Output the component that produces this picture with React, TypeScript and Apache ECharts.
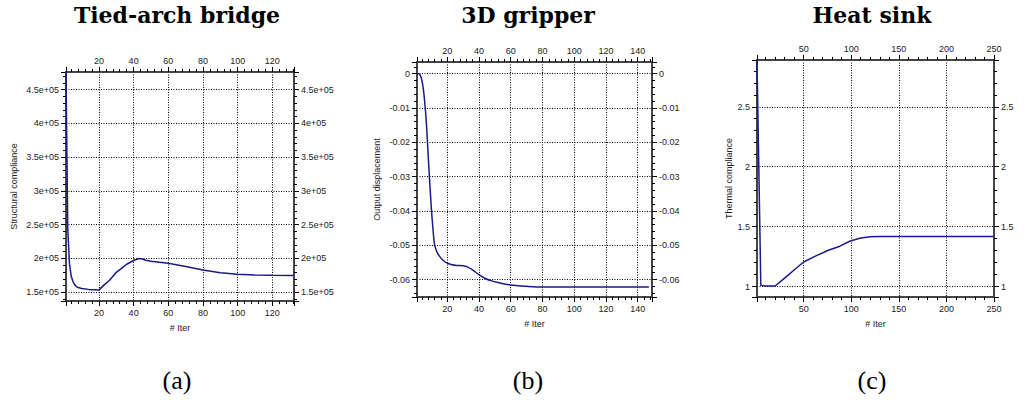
import React, { useEffect, useRef } from 'react';
import * as echarts from 'echarts';

// (a) Tied-arch bridge
const iterA = [1, 2, 3, 4, 5, 6, 7, 8, 10, 14, 20, 23, 26, 30, 33, 36, 40, 43, 45, 47, 50, 60, 70, 80, 90, 100, 110, 120, 132];
const complianceA = [475000, 245000, 192000, 174000, 166000, 161000, 158500, 157000, 155500, 154300, 153200, 161000, 167500, 179500, 185500, 191500, 197000, 200000, 199200, 197500, 195800, 192900, 188000, 183000, 179000, 176600, 175600, 175200, 175000];

// (b) 3D gripper
const iterB = [1, 2, 3, 4, 5, 6, 7, 8, 9, 10, 11, 12, 13, 14, 16, 18, 20, 23, 26, 30, 33, 36, 40, 44, 48, 52, 56, 60, 65, 70, 80, 147];
const displacementB = [0, 0, -0.0004, -0.0018, -0.0045, -0.009, -0.015, -0.0235, -0.0315, -0.039, -0.045, -0.0497, -0.0513, -0.0524, -0.0537, -0.0546, -0.0552, -0.0557, -0.0559, -0.056, -0.0564, -0.0572, -0.0586, -0.0597, -0.0604, -0.0609, -0.0613, -0.0616, -0.0618, -0.062, -0.0622, -0.0622];

// (c) Heat sink
const iterC = [1, 5, 10, 20, 30, 40, 50, 64, 76, 88, 99, 110, 120, 130, 250];
const complianceC = [2.89, 1.01, 1.005, 1.005, 1.07, 1.138, 1.205, 1.26, 1.303, 1.337, 1.38, 1.405, 1.415, 1.417, 1.417];

// axis ranges [min, max] and major tick step
const xRangeA = [1, 132.5];
const xRangeB = [1, 149];
const xRangeC = [1, 250];
const yRangeA = [137100, 476000];
const yRangeB = [-0.0651, 0.0034];
const yRangeC = [0.913, 2.89];
const xStep = [20, 20, 50];
const yStep = [50000, 0.01, 0.5];

const titles = ['Tied-arch bridge', '3D gripper', 'Heat sink'];
const captions = ['(a)', '(b)', '(c)'];
const yNames = ['Structural compliance', 'Output displacement', 'Thermal compliance'];
const xName = '# Iter';

const FONT = 'Liberation Sans';

const expFmt = (v: number) => {
  const s = v.toExponential();
  const [m, e] = s.split('e');
  return m + 'e' + e[0] + e.slice(1).padStart(2, '0');
};

function axis(
  gridIndex: number,
  position: string,
  range: number[],
  step: number,
  opts: { grid: boolean; showMax: boolean; name?: string; nameGap?: number; formatter?: (v: number) => string }
) {
  const o: any = {
    type: 'value',
    gridIndex,
    position,
    min: range[0],
    max: range[1],
    minInterval: step,
    maxInterval: step,
    splitNumber: 5,
    axisLine: { show: true, onZero: false, lineStyle: { color: '#444', width: 2 } },
    axisTick: { show: true, inside: false, length: 5, lineStyle: { color: '#000', width: 1 } },
    minorTick: { show: true, splitNumber: 5, length: 3, lineStyle: { color: '#000', width: 1 } },
    axisLabel: {
      show: true,
      margin: 7,
      fontSize: 9,
      fontFamily: FONT,
      color: '#222',
      showMinLabel: false,
      showMaxLabel: opts.showMax,
    },
    splitLine: { show: opts.grid, lineStyle: { color: '#000', type: [1, 1.5], width: 1 } },
    minorSplitLine: { show: false },
  };
  if (opts.formatter) o.axisLabel.formatter = opts.formatter;
  if (opts.name) {
    o.name = opts.name;
    o.nameLocation = 'middle';
    o.nameGap = opts.nameGap;
    o.nameTextStyle = { fontSize: 9, fontFamily: FONT, color: '#222' };
  }
  return o;
}

export default function App() {
  const ref = useRef<HTMLDivElement>(null);
  useEffect(() => {
    if (!ref.current) return;
    const chart = echarts.init(ref.current, undefined, { renderer: 'svg' });
    const grid = [
      { left: 66, top: 72, width: 228, height: 229 },
      { left: 417, top: 62, width: 235, height: 235 },
      { left: 757, top: 60, width: 237, height: 237 },
    ];
    const xRanges = [xRangeA, xRangeB, xRangeC];
    const yRanges = [yRangeA, yRangeB, yRangeC];
    const xShowMax = [false, false, true];
    const fmts: any[] = [expFmt, undefined, undefined];
    const gaps = [48, 36, 24];
    const xAxis: any[] = [];
    const yAxis: any[] = [];
    for (let i = 0; i < 3; i++) {
      xAxis.push(axis(i, 'bottom', xRanges[i], xStep[i], { grid: true, showMax: xShowMax[i], name: xName, nameGap: 22 }));
      xAxis.push(axis(i, 'top', xRanges[i], xStep[i], { grid: false, showMax: xShowMax[i] }));
      yAxis.push(axis(i, 'left', yRanges[i], yStep[i], { grid: true, showMax: false, name: yNames[i], nameGap: gaps[i], formatter: fmts[i] }));
      yAxis.push(axis(i, 'right', yRanges[i], yStep[i], { grid: false, showMax: false, formatter: fmts[i] }));
    }
    const lineStyle = { color: '#1a1a8c', width: 1.5 };
    const series = [
      { x: iterA, y: complianceA },
      { x: iterB, y: displacementB },
      { x: iterC, y: complianceC },
    ].map((d, i) => ({
      type: 'line',
      xAxisIndex: i * 2,
      yAxisIndex: i * 2,
      showSymbol: false,
      symbol: 'none',
      smooth: i === 1 ? 0.3 : false,
      lineStyle,
      z: 3,
      data: d.x.map((x, j) => [x, d.y[j]]),
    }));
    const centers = [177, 528, 872];
    const graphic: any[] = [];
    for (let i = 0; i < 3; i++) {
      graphic.push({
        type: 'text',
        x: centers[i],
        y: 15,
        style: {
          text: titles[i],
          font: 'bold 22px "DejaVu Serif"',
          fill: '#000',
          align: 'center',
          verticalAlign: 'middle',
          textAlign: 'center',
          textVerticalAlign: 'middle',
        },
      });
      graphic.push({
        type: 'text',
        x: centers[i],
        y: 380,
        style: {
          text: captions[i],
          font: '26px "Liberation Serif"',
          fill: '#000',
          align: 'center',
          verticalAlign: 'middle',
          textAlign: 'center',
          textVerticalAlign: 'middle',
        },
      });
    }
    chart.setOption({
      animation: false,
      backgroundColor: '#fff',
      grid,
      xAxis,
      yAxis,
      series,
      graphic,
    });
    return () => chart.dispose();
  }, []);
  return <div ref={ref} style={{ position: 'absolute', left: 0, top: 0, width: 1026, height: 400 }} />;
}
